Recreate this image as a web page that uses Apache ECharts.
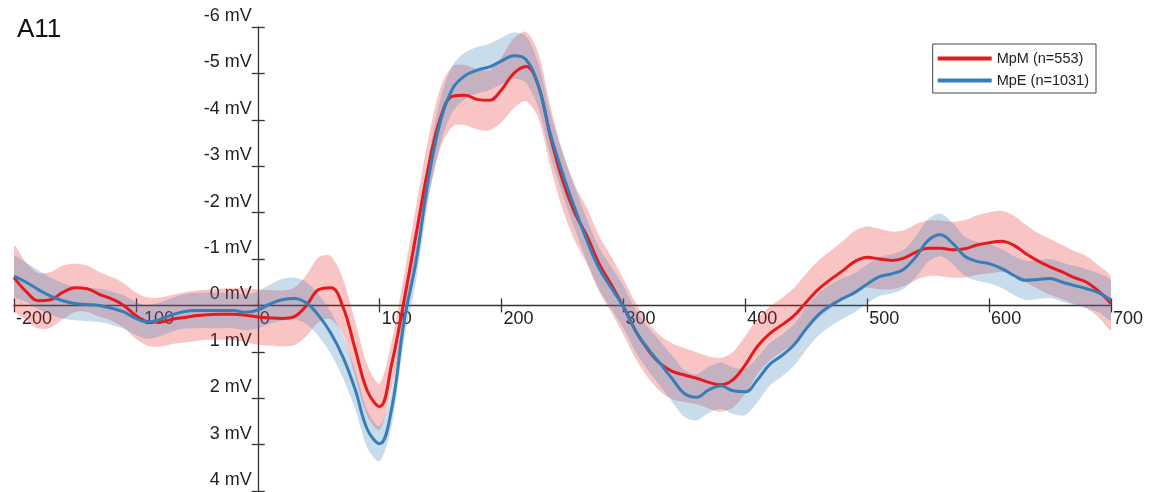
<!DOCTYPE html>
<html>
<head>
<meta charset="utf-8">
<title>A11</title>
<script src="https://cdn.jsdelivr.net/npm/echarts@6/dist/echarts.min.js"></script>
<style>
  html, body { margin: 0; padding: 0; background: #fff; }
  #chart { width: 1153px; height: 492px; }
</style>
</head>
<body>
<div id="chart"></div>
<script>
// Sample times (ms), one every 10 ms from -200 to 700
const times = [
  -200, -190, -180, -170, -160, -150, -140, -130, -120, -110,
  -100, -90, -80, -70, -60, -50, -40, -30, -20, -10,
  0, 10, 20, 30, 40, 50, 60, 70, 80, 90,
  100, 110, 120, 130, 140, 150, 160, 170, 180, 190,
  200, 210, 220, 230, 240, 250, 260, 270, 280, 290,
  300, 310, 320, 330, 340, 350, 360, 370, 380, 390,
  400, 410, 420, 430, 440, 450, 460, 470, 480, 490,
  500, 510, 520, 530, 540, 550, 560, 570, 580, 590,
  600, 610, 620, 630, 640, 650, 660, 670, 680, 690,
  700
];

// Grand average, MpM group (mV)
const mpmMean = [
  -0.60, -0.30, -0.10, -0.12, -0.28, -0.38, -0.36, -0.24, -0.14, 0.00,
  0.22, 0.35, 0.36, 0.30, 0.26, 0.22, 0.20, 0.19, 0.19, 0.21,
  0.25, 0.27, 0.28, 0.24, 0.00, -0.34, -0.38, 0.04, 0.95, 1.85,
  2.18, 1.25, -0.10, -1.55, -2.98, -4.05, -4.51, -4.53, -4.44, -4.42,
  -4.65, -5.00, -5.15, -4.75, -3.65, -2.70, -2.00, -1.50, -0.90, -0.45,
  0.03, 0.55, 0.95, 1.25, 1.42, 1.50, 1.57, 1.66, 1.71, 1.60,
  1.28, 0.88, 0.61, 0.42, 0.22, -0.07, -0.35, -0.56, -0.75, -0.95,
  -1.04, -1.00, -0.97, -1.02, -1.15, -1.23, -1.23, -1.20, -1.22, -1.30,
  -1.35, -1.38, -1.30, -1.12, -0.96, -0.83, -0.72, -0.60, -0.50, -0.30,
  -0.04
];

// Grand average, MpE group (mV)
const mpeMean = [
  -0.63, -0.50, -0.34, -0.20, -0.10, -0.04, -0.02, 0.00, 0.06, 0.14,
  0.28, 0.36, 0.30, 0.20, 0.13, 0.11, 0.11, 0.11, 0.11, 0.15,
  0.10, -0.03, -0.12, -0.15, -0.05, 0.22, 0.60, 1.12, 1.82, 2.68,
  2.98, 2.20, 0.35, -0.97, -2.72, -3.98, -4.68, -4.95, -5.07, -5.14,
  -5.27, -5.38, -5.30, -4.75, -3.70, -2.85, -2.10, -1.40, -0.80, -0.38,
  0.03, 0.55, 0.93, 1.25, 1.58, 1.90, 1.98, 1.82, 1.73, 1.84,
  1.86, 1.60, 1.27, 1.08, 0.85, 0.50, 0.20, 0.00, -0.15, -0.28,
  -0.46, -0.62, -0.68, -0.78, -1.05, -1.40, -1.52, -1.34, -1.06, -0.95,
  -0.90, -0.80, -0.65, -0.54, -0.56, -0.58, -0.50, -0.43, -0.36, -0.27,
  -0.11
];

// Half-width of the shaded error band around each average (mV)
const mpmErr = [
  0.68, 0.62, 0.60, 0.60, 0.58, 0.52, 0.50, 0.48, 0.47, 0.48,
  0.50, 0.52, 0.53, 0.53, 0.54, 0.54, 0.54, 0.55, 0.56, 0.58,
  0.60, 0.60, 0.60, 0.62, 0.66, 0.70, 0.68, 0.60, 0.60, 0.55,
  0.50, 0.50, 0.55, 0.60, 0.62, 0.65, 0.65, 0.65, 0.65, 0.65,
  0.70, 0.75, 0.75, 0.70, 0.65, 0.62, 0.60, 0.60, 0.60, 0.60,
  0.60, 0.60, 0.60, 0.60, 0.60, 0.58, 0.56, 0.56, 0.58, 0.60,
  0.62, 0.60, 0.58, 0.58, 0.60, 0.62, 0.62, 0.62, 0.64, 0.66,
  0.66, 0.65, 0.62, 0.60, 0.60, 0.60, 0.60, 0.60, 0.62, 0.64,
  0.66, 0.66, 0.64, 0.62, 0.60, 0.60, 0.58, 0.57, 0.56, 0.56,
  0.56
];

const mpeErr = [
  0.42, 0.42, 0.42, 0.40, 0.38, 0.36, 0.36, 0.36, 0.36, 0.36,
  0.36, 0.36, 0.36, 0.36, 0.37, 0.38, 0.38, 0.38, 0.38, 0.38,
  0.40, 0.42, 0.45, 0.45, 0.45, 0.45, 0.45, 0.45, 0.42, 0.40,
  0.38, 0.38, 0.40, 0.42, 0.45, 0.48, 0.50, 0.50, 0.50, 0.50,
  0.50, 0.50, 0.50, 0.48, 0.46, 0.45, 0.45, 0.45, 0.45, 0.45,
  0.45, 0.45, 0.46, 0.48, 0.50, 0.50, 0.50, 0.50, 0.50, 0.50,
  0.50, 0.48, 0.46, 0.45, 0.45, 0.45, 0.45, 0.45, 0.44, 0.42,
  0.42, 0.42, 0.42, 0.42, 0.44, 0.46, 0.46, 0.44, 0.42, 0.42,
  0.42, 0.42, 0.42, 0.42, 0.42, 0.42, 0.42, 0.42, 0.42, 0.42,
  0.42
];

const groupNames = ['MpM (n=553)', 'MpE (n=1031)'];
const xTicks = { min: -200, max: 700, step: 100 };
const yTicks = { min: -6, max: 4, step: 1 };

const RED = '#E41A1C';
const BLUE = '#377EB8';
const FONT = "'Liberation Sans', Arial, sans-serif";

// Shaded error band drawn as one closed polygon through the axis scales
function bandSeries(mean, err, fill) {
  return {
    type: 'custom',
    silent: true,
    clip: true,
    data: [[0, 0]],
    encode: { x: 0, y: 1 },
    renderItem: function (params, api) {
      const top = times.map((t, i) => api.coord([t, mean[i] - err[i]]));
      const bottom = times.map((t, i) => api.coord([t, mean[i] + err[i]])).reverse();
      return {
        type: 'polygon',
        shape: { points: top.concat(bottom), smooth: 0.3 },
        style: { fill: fill, stroke: 'none' }
      };
    }
  };
}

function meanSeries(name, values, color) {
  return {
    name: name,
    type: 'line',
    data: times.map((t, i) => [t, values[i]]),
    smooth: 0.4,
    symbol: 'none',
    color: color,
    lineStyle: { color: color, width: 3 },
    emphasis: { disabled: true }
  };
}

const axisLineStyle = { color: '#333', width: 1.3 };

function xAxisDef(withLabels, inside) {
  return {
    type: 'value',
    min: xTicks.min,
    max: xTicks.max,
    interval: xTicks.step,
    position: 'bottom',
    offset: 0,
    axisLine: { show: withLabels, onZero: false, lineStyle: axisLineStyle },
    axisTick: { show: true, inside: inside, length: 7, lineStyle: axisLineStyle },
    splitLine: { show: false },
    axisLabel: {
      show: withLabels,
      align: 'left',
      margin: 5,
      padding: [0, 0, 0, 2],
      showMinLabel: true,
      showMaxLabel: true,
      fontFamily: FONT,
      fontSize: 18,
      color: '#222'
    }
  };
}

function yAxisDef(withLabels, inside) {
  return {
    type: 'value',
    inverse: true,
    min: yTicks.min,
    max: yTicks.max,
    interval: yTicks.step,
    position: 'left',
    offset: 0,
    axisLine: { show: withLabels, onZero: false, lineStyle: axisLineStyle },
    axisTick: { show: true, inside: inside, length: inside ? 7 : 6, lineStyle: axisLineStyle },
    splitLine: { show: false },
    axisLabel: {
      show: withLabels,
      margin: 6,
      align: 'right',
      verticalAlign: 'bottom',
      padding: [0, 0, 2, 0],
      showMinLabel: true,
      showMaxLabel: true,
      fontFamily: FONT,
      fontSize: 18,
      color: '#222',
      formatter: v => v + ' mV'
    }
  };
}

const chart = echarts.init(document.getElementById('chart'), null, { renderer: 'canvas' });

chart.setOption({
  animation: false,
  backgroundColor: '#fff',
  title: {
    text: 'A11',
    left: 12,
    top: 12,
    textStyle: { fontFamily: FONT, fontSize: 26, fontWeight: 'normal', color: '#111' }
  },
  legend: {
    data: groupNames,
    orient: 'vertical',
    right: 57,
    top: 44,
    backgroundColor: '#fff',
    borderColor: '#444',
    borderWidth: 1,
    borderRadius: 0,
    padding: [7, 7, 5, 5],
    itemGap: 7,
    itemWidth: 54,
    itemHeight: 4,
    icon: 'rect',
    selectedMode: false,
    textStyle: { fontFamily: FONT, fontSize: 14.5, color: '#222' }
  },
  grid: {
    left: 14,
    right: 42,
    top: 27,
    bottom: 1,
    containLabel: false,
    outerBoundsMode: 'none'
  },
  xAxis: [xAxisDef(true, false), xAxisDef(false, true)],
  yAxis: [yAxisDef(true, false), yAxisDef(false, true)],
  series: [
    bandSeries(mpmMean, mpmErr, 'rgba(228, 26, 28, 0.26)'),
    meanSeries(groupNames[0], mpmMean, RED),
    bandSeries(mpeMean, mpeErr, 'rgba(55, 126, 184, 0.27)'),
    meanSeries(groupNames[1], mpeMean, BLUE)
  ]
});

// Move both axes so they cross at (0 ms, 0 mV) inside the plot
const zeroX = chart.convertToPixel({ xAxisIndex: 0 }, 0);
const leftX = chart.convertToPixel({ xAxisIndex: 0 }, xTicks.min);
const zeroY = chart.convertToPixel({ yAxisIndex: 0 }, 0);
const bottomY = chart.convertToPixel({ yAxisIndex: 0 }, yTicks.max);
const xOffset = -(bottomY - zeroY);
const yOffset = -(zeroX - leftX);
chart.setOption({
  xAxis: [{ offset: xOffset }, { offset: xOffset }],
  yAxis: [{ offset: yOffset }, { offset: yOffset }]
});
</script>
</body>
</html>
